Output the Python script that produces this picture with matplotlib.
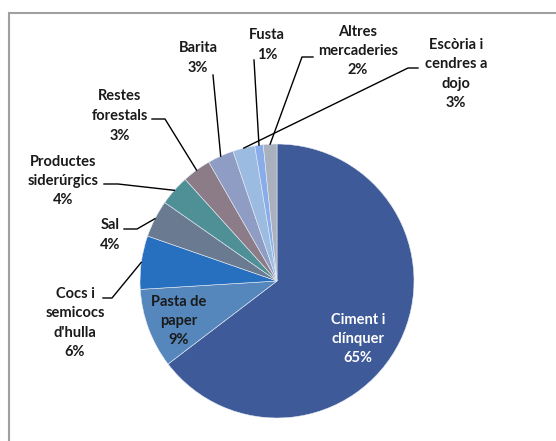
import matplotlib
matplotlib.use("Agg")
import matplotlib.pyplot as plt
import numpy as np

categories = ["Ciment i\nclínquer", "Pasta de\npaper", "Cocs i\nsemicocs\nd'hulla", "Sal",
              "Productes\nsiderúrgics", "Restes\nforestals", "Barita", "Escòria i\ncendres a\ndojo",
              "Fusta", "Altres\nmercaderies"]
values = [64.7, 9.4, 6.3, 4.4, 3.6, 3.4, 3.1, 2.6, 1.0, 1.6]
colors = ["#3F5A99", "#5587BD", "#2670BF", "#6A7B91", "#4E9096",
          "#8B7C88", "#8F9CC3", "#9BBCE0", "#88ADEA", "#A9B1BF"]

W, H = 556, 441
fig = plt.figure(figsize=(W / 100, H / 100), dpi=100)
ax = fig.add_axes([0, 0, 1, 1])
ax.set_xlim(0, W)
ax.set_ylim(0, H)
ax.set_aspect("equal")
ax.axis("off")

def Y(y):
    return H - y

cx, cy, r = 277, 281, 137
wedges, _ = ax.pie(values, colors=colors, startangle=90, counterclock=False,
                   center=(cx, Y(cy)), radius=r, frame=True,
                   wedgeprops=dict(edgecolor="#E8ECF4", linewidth=0.4))
ax.set_xlim(0, W)
ax.set_ylim(0, H)
ax.axis("off")

# chart frame (top and left visible)
ax.plot([8.5, 8.5, W + 5], [-5, Y(12.5), Y(12.5)], color="#A0A0A0", lw=1.5,
        solid_joinstyle="miter")

font = dict(family=["Lato", "DejaVu Sans"], fontweight="bold", fontsize=10.5)
labels = [f"{c}\n{round(v):.0f}%" for c, v in zip(categories, values)]

# label layout: text center, elbow points (pixels) or None for inside labels
text_pos = [(358, 339), (179, 321), (75, 323), (110, 235), (63, 181),
            (120, 116), (198, 58), (456, 74), (267, 45), (358, 51)]
elbows = [None, None,
          [(103, 298), (112, 298)],
          [(124, 229), (137, 229)],
          [(104, 184), (118, 184)],
          [(152, 119), (165, 119)],
          [(213, 75)],
          [(418, 68), (408, 68)],
          [(254, 60)],
          [(313, 57), (302, 57)]]
text_colors = ["white", "#1A1A1A"] + ["#1A1A1A"] * 8

total = sum(values)
cum = 0
for i, v in enumerate(values):
    mid = (cum + v / 2) / total * 360
    cum += v
    tx, ty = text_pos[i]
    ax.text(tx, Y(ty), labels[i], ha="center", va="center", color=text_colors[i],
            linespacing=1.5, **font)
    if elbows[i] is not None:
        ex = cx + r * np.sin(np.radians(mid))
        ey = cy - r * np.cos(np.radians(mid))
        pts = elbows[i] + [(ex, ey)]
        ax.plot([p[0] for p in pts], [Y(p[1]) for p in pts], color="black", lw=1.0)

fig.savefig("out.png", dpi=100)
